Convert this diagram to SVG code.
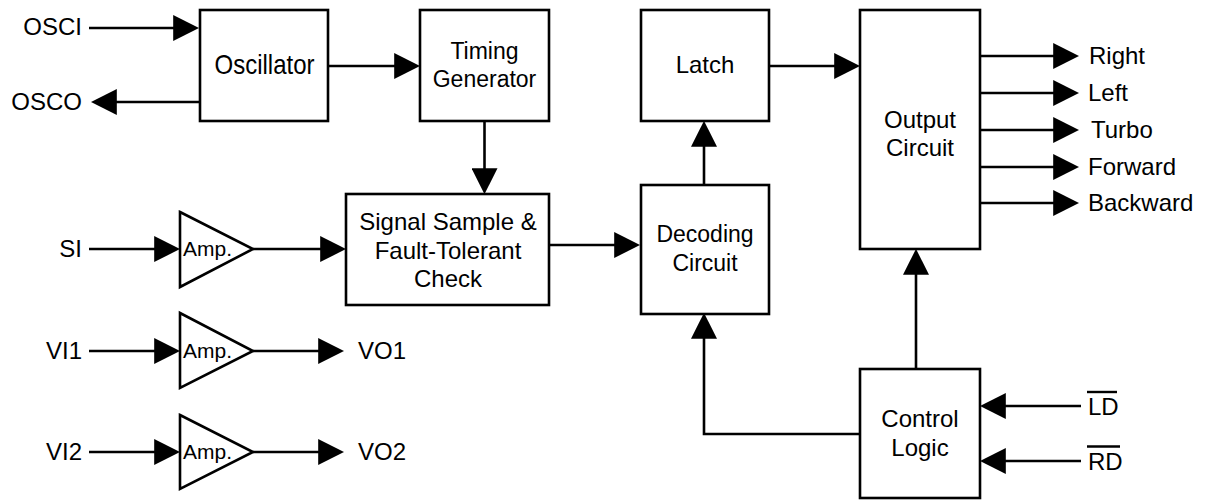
<svg xmlns="http://www.w3.org/2000/svg" width="1206" height="500" viewBox="0 0 1206 500">
<style>
.box{fill:#fff;stroke:#000;stroke-width:2.6}
.amp{fill:#fff;stroke:#000;stroke-width:2.6;stroke-linejoin:miter}
.w{fill:none;stroke:#000;stroke-width:2.6}
text{font-family:"Liberation Sans",Arial,sans-serif;font-size:24px;fill:#000}
.c{text-anchor:middle}
.e{text-anchor:end}
.s{font-size:23px}
.a{font-size:21px}
.ov{stroke:#000;stroke-width:2.4}
</style>
<defs>
<marker id="ah" markerUnits="userSpaceOnUse" markerWidth="26" markerHeight="26" viewBox="0 0 25 25" refX="21" refY="12.5" orient="auto">
<path d="M0,0 L25,12.5 L0,25 Z" fill="#000"/>
</marker>
</defs>
<rect width="1206" height="500" fill="#fff"/>
<g id="connectors">
<line class="w" x1="89" y1="28" x2="195" y2="28" marker-end="url(#ah)"/>
<line class="w" x1="199" y1="102" x2="95" y2="102" marker-end="url(#ah)"/>
<line class="w" x1="328" y1="66" x2="416" y2="66" marker-end="url(#ah)"/>
<line class="w" x1="484.5" y1="121" x2="484.5" y2="190" marker-end="url(#ah)"/>
<line class="w" x1="89" y1="249" x2="176" y2="249" marker-end="url(#ah)"/>
<line class="w" x1="253" y1="249" x2="342" y2="249" marker-end="url(#ah)"/>
<line class="w" x1="89" y1="351" x2="176" y2="351" marker-end="url(#ah)"/>
<line class="w" x1="253" y1="351" x2="340" y2="351" marker-end="url(#ah)"/>
<line class="w" x1="89" y1="452" x2="176" y2="452" marker-end="url(#ah)"/>
<line class="w" x1="253" y1="452" x2="340" y2="452" marker-end="url(#ah)"/>
<line class="w" x1="549" y1="245" x2="636" y2="245" marker-end="url(#ah)"/>
<line class="w" x1="704" y1="185" x2="704" y2="125" marker-end="url(#ah)"/>
<line class="w" x1="769" y1="66" x2="856" y2="66" marker-end="url(#ah)"/>
<line class="w" x1="980" y1="56" x2="1075" y2="56" marker-end="url(#ah)"/>
<line class="w" x1="980" y1="93" x2="1075" y2="93" marker-end="url(#ah)"/>
<line class="w" x1="980" y1="130" x2="1075" y2="130" marker-end="url(#ah)"/>
<line class="w" x1="980" y1="167" x2="1075" y2="167" marker-end="url(#ah)"/>
<line class="w" x1="980" y1="203" x2="1075" y2="203" marker-end="url(#ah)"/>
<line class="w" x1="916" y1="369" x2="916" y2="253" marker-end="url(#ah)"/>
<polyline class="w" points="860,434 704,434 704,317" marker-end="url(#ah)"/>
<line class="w" x1="1081" y1="406" x2="984" y2="406" marker-end="url(#ah)"/>
<line class="w" x1="1081" y1="461" x2="984" y2="461" marker-end="url(#ah)"/>
</g>
<g id="oscillator"><rect class="box" x="200" y="10" width="128" height="111"/><text class="c" transform="translate(264.5,74) scale(1,1.12)">Oscillator</text></g>
<g id="timing"><rect class="box" x="420" y="10" width="129" height="111"/><text class="c s" x="484.5" y="58.5">Timing</text><text class="c s" x="484.5" y="87">Generator</text></g>
<g id="signal"><rect class="box" x="346" y="194" width="203" height="111"/><text class="c" x="448" y="230">Signal Sample &amp;</text><text class="c" x="448" y="258.5">Fault-Tolerant</text><text class="c" x="448" y="287">Check</text></g>
<g id="amp1"><polygon class="amp" points="180,212 253,249 180,287"/><text class="a" x="183" y="256">Amp.</text></g>
<g id="amp2"><polygon class="amp" points="180,313 253,351 180,388"/><text class="a" x="183" y="358">Amp.</text></g>
<g id="amp3"><polygon class="amp" points="180,415 253,452 180,489"/><text class="a" x="183" y="459">Amp.</text></g>
<g id="latch"><rect class="box" x="641" y="10" width="128" height="111"/><text class="c" x="705" y="73">Latch</text></g>
<g id="decoding"><rect class="box" x="641" y="185" width="128" height="129"/><text class="c s" x="705" y="242">Decoding</text><text class="c s" x="705" y="271">Circuit</text></g>
<g id="output"><rect class="box" x="860" y="10" width="120" height="239"/><text class="c" x="920" y="128">Output</text><text class="c" x="920" y="156">Circuit</text></g>
<g id="control"><rect class="box" x="860" y="369" width="120" height="129"/><text class="c" x="920" y="427">Control</text><text class="c" x="920" y="456">Logic</text></g>
<g id="labels">
<text class="e" x="82" y="35">OSCI</text>
<text class="e" x="82" y="110">OSCO</text>
<text class="e" x="82" y="257">SI</text>
<text class="e" x="82" y="359">VI1</text>
<text class="e" x="82" y="460">VI2</text>
<text x="358" y="359">VO1</text>
<text x="358" y="460">VO2</text>
<text x="1089" y="64">Right</text>
<text x="1088" y="101">Left</text>
<text x="1091" y="138">Turbo</text>
<text x="1088" y="175">Forward</text>
<text x="1088" y="211">Backward</text>
<text x="1088" y="415">LD</text>
<line class="ov" x1="1087" y1="392" x2="1117" y2="392"/>
<text x="1088" y="470">RD</text>
<line class="ov" x1="1087" y1="446.5" x2="1120" y2="446.5"/>
</g>
</svg>
